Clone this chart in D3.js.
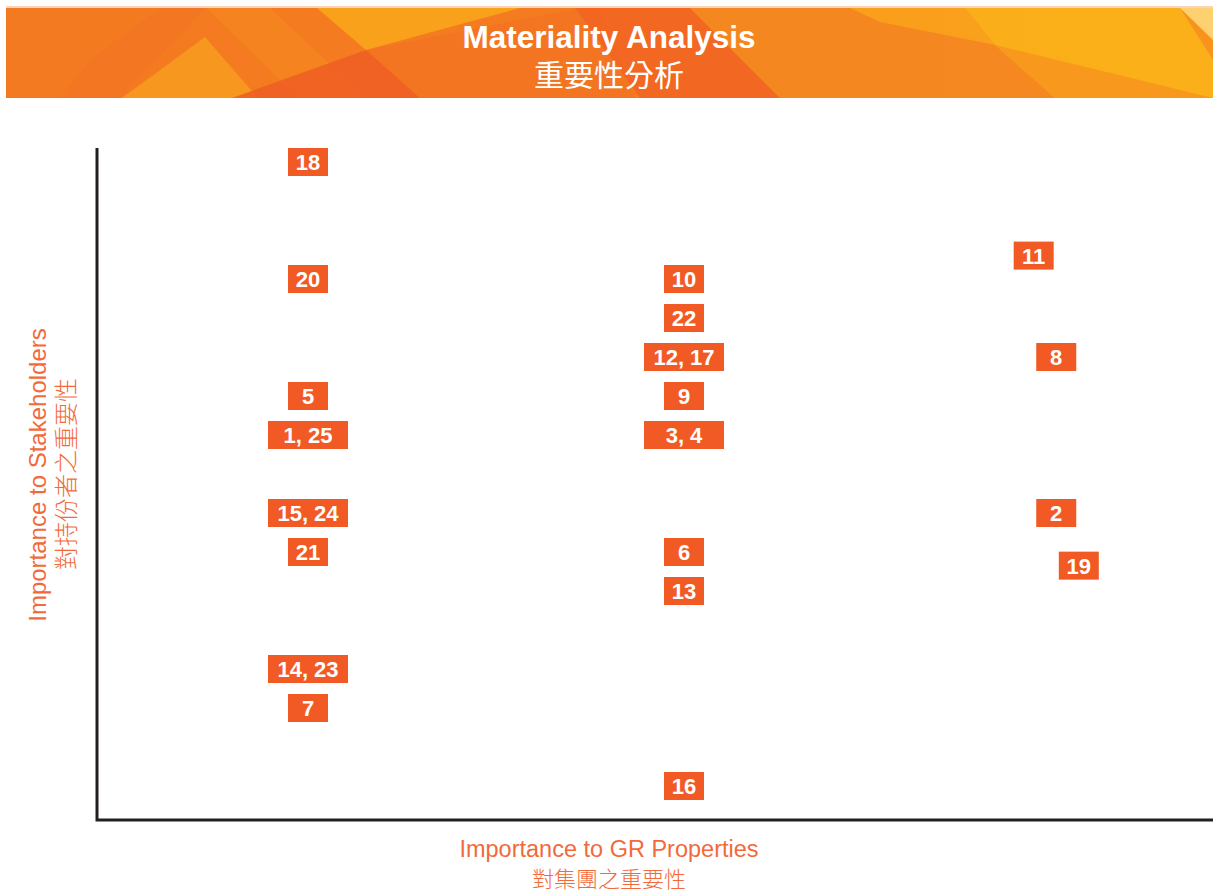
<!DOCTYPE html>
<html><head><meta charset="utf-8">
<script src="https://cdn.jsdelivr.net/npm/d3@7"></script>
<style>body{margin:0;background:#fff}svg{display:block}</style>
</head><body>
<svg id="c" width="1216" height="894"></svg>
<script>
// Data
const labels = ["18","20","5","1, 25","15, 24","21","14, 23","7",
                "10","22","12, 17","9","3, 4","6","13","16",
                "11","8","2","19"];
const govScores = [1,1,1,1,1,1,1,1,
                   2,2,2,2,2,2,2,2,
                   2.93,2.99,2.99,3.05];
const stakeScores = [17,14,11,10,8,7,4,3,
                     14,13,12,11,10,7,6,1,
                     14.6,12,8,6.65];
const titleEn = "Materiality Analysis";
const titleZh = "重要性分析";
const xTitle = ["Importance to GR Properties","對集團之重要性"];
const yTitle = ["Importance to Stakeholders","對持份者之重要性"];

const svg = d3.select("#c");
const orange = "#f15a24";

// Banner
const bx0=6,bx1=1213,by0=8,by1=98;
const defs = svg.append("defs");
const clip = defs.append("clipPath").attr("id","bclip");
clip.append("rect").attr("x",bx0).attr("y",by0).attr("width",bx1-bx0).attr("height",by1-by0);
const g0 = defs.append("linearGradient").attr("id","bg").attr("x1","0").attr("x2","1").attr("y1","0").attr("y2","0");
g0.append("stop").attr("offset","0").attr("stop-color","#f47a21");
g0.append("stop").attr("offset","0.5").attr("stop-color","#f47c20");
g0.append("stop").attr("offset","1").attr("stop-color","#f7941d");
svg.append("rect").attr("x",bx0).attr("y",by0-2).attr("width",bx1-bx0).attr("height",2).attr("fill","#fbd3b8");
const banner = svg.append("g").attr("clip-path","url(#bclip)");
banner.append("rect").attr("x",bx0).attr("y",by0).attr("width",bx1-bx0).attr("height",by1-by0).attr("fill","url(#bg)");
const polys = [
  {p:[[160,8],[206,8],[120,98],[60,98],[90,60]], c:"#f37622"},
  {p:[[122,98],[205,37],[258,98]], c:"#f79a1f"},
  {p:[[205,8],[270,8],[368,100],[300,100],[207,8]], c:"#f58520"},
  {p:[[316,8],[520,8],[366,50],[317,8]], c:"#f9a51b"},
  {p:[[366,50],[580,8],[600,8],[636,98],[420,98],[366,50]], c:"#f37422"},
  {p:[[232,98],[366,50],[420,98]], c:"#f05f24"},
  {p:[[575,8],[690,8],[780,98],[640,98]], c:"#f26522"},
  {p:[[690,8],[865,8],[995,45],[1055,98],[780,98]], c:"#f58720"},
  {p:[[850,8],[965,8],[995,45],[880,22]], c:"#f9a21c"},
  {p:[[965,8],[1180,8],[1213,60],[1213,98],[1055,98],[995,45]], c:"#fbb31a"},
  {p:[[995,45],[1213,98],[1055,98]], c:"#f7961e"},
  {p:[[1180,8],[1213,8],[1213,40]], c:"#fdd77a"}
];
banner.selectAll("polygon").data(polys).join("polygon")
  .attr("points",d=>d.p.map(q=>q.join(",")).join(" ")).attr("fill",d=>d.c).attr("opacity",0.9);

svg.append("text").attr("x",609).attr("y",48).attr("text-anchor","middle")
  .attr("font-family","Liberation Sans, Arial, sans-serif").attr("font-weight","bold")
  .attr("font-size",31.5).attr("fill","#fff").text(titleEn);
svg.append("text").attr("x",609).attr("y",86).attr("text-anchor","middle")
  .attr("font-family","Noto Sans CJK TC, sans-serif").attr("font-size",30)
  .attr("fill","#fff").text(titleZh);

// Scales
const x = d3.scaleLinear().domain([1,2]).range([308,684]);
const y = d3.scaleLinear().domain([1,17]).range([786,162]);

// Axes
const axisColor="#231f20";
svg.append("path").attr("d",`M97,148 V820 H1213`).attr("fill","none")
  .attr("stroke",axisColor).attr("stroke-width",3);

// Boxes
const data = labels.map((l,i)=>({l,gx:govScores[i],sy:stakeScores[i]}));
const boxes = svg.append("g").selectAll("g").data(data).join("g")
  .attr("transform",d=>`translate(${x(d.gx)},${y(d.sy)})`);
boxes.append("rect")
  .attr("x",d=>d.l.includes(",")?-40:-20).attr("y",-14)
  .attr("width",d=>d.l.includes(",")?80:40).attr("height",28).attr("fill",orange);
boxes.append("text").attr("text-anchor","middle").attr("dy","0.36em")
  .attr("font-family","Liberation Sans, Arial, sans-serif").attr("font-weight","bold")
  .attr("font-size",22).attr("fill","#fff").text(d=>d.l);

// Axis titles
const lab = "#f26a3b";
svg.append("text").attr("x",609).attr("y",857).attr("text-anchor","middle")
  .attr("font-family","Liberation Sans, Arial, sans-serif").attr("font-size",23.5).attr("fill",lab).text(xTitle[0]);
svg.append("text").attr("x",609).attr("y",887).attr("text-anchor","middle")
  .attr("font-family","Noto Sans CJK TC, sans-serif").attr("font-weight",300).attr("font-size",22).attr("fill",lab).text(xTitle[1]);
svg.append("text").attr("transform","translate(46,475) rotate(-90)").attr("text-anchor","middle")
  .attr("font-family","Liberation Sans, Arial, sans-serif").attr("font-size",24).attr("fill",lab).text(yTitle[0]);
svg.append("text").attr("transform","translate(75,474) rotate(-90)").attr("text-anchor","middle")
  .attr("font-family","Noto Sans CJK TC, sans-serif").attr("font-weight",300).attr("font-size",24).attr("fill",lab).text(yTitle[1]);
</script>
</body></html>
